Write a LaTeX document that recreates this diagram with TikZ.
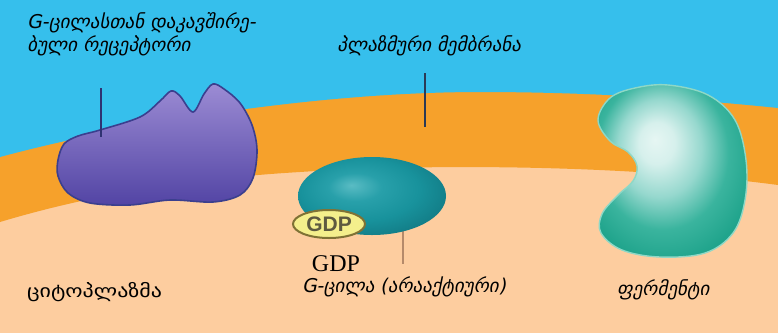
\documentclass[tikz,border=0pt]{standalone}
\usepackage{fontspec}
\usetikzlibrary{shapes.geometric}
\setmainfont{Liberation Serif}
\newfontfamily\geo{DejaVu Sans}[FakeStretch=1.22]
\newfontfamily\geoit{DejaVu Sans}[FakeSlant=0.2]
\newfontfamily\gdpfont{Liberation Sans}

\definecolor{extracell}{HTML}{36BFEC}
\definecolor{membrane}{HTML}{F6A12B}
\definecolor{cyto}{HTML}{FDCD9F}
\definecolor{reclight}{HTML}{9C8CD4}
\definecolor{recmid}{HTML}{8070C4}
\definecolor{recdark}{HTML}{5244A4}
\definecolor{recline}{HTML}{3B3F8E}
\definecolor{gdpfill}{HTML}{F4EF8C}
\definecolor{gdpline}{HTML}{7F7235}
\definecolor{gdptext}{HTML}{5E5A40}
\definecolor{stalk}{HTML}{B58A6A}
\definecolor{leader}{HTML}{2B3A55}
\definecolor{enzedge}{HTML}{8ED8C6}

% G-protein body: teal with a highlight up and to the left
\pgfdeclareradialshading{gprotshade}{\pgfpoint{-7bp}{7bp}}{%
  color(0bp)=(rgb,255:red,90;green,188;blue,196);
  color(9bp)=(rgb,255:red,40;green,160;blue,170);
  color(20bp)=(rgb,255:red,24;green,146;blue,156);
  color(30bp)=(rgb,255:red,18;green,124;blue,134);
  color(50bp)=(rgb,255:red,18;green,124;blue,134)}

% enzyme: pale centre fading to teal at the rim
\pgfdeclareradialshading{enzshade}{\pgfpoint{-6bp}{9bp}}{%
  color(0bp)=(rgb,255:red,230;green,246;blue,243);
  color(6bp)=(rgb,255:red,214;green,240;blue,236);
  color(14bp)=(rgb,255:red,150;green,216;blue,206);
  color(22bp)=(rgb,255:red,58;green,180;blue,158);
  color(30bp)=(rgb,255:red,32;green,164;blue,140);
  color(50bp)=(rgb,255:red,32;green,164;blue,140)}

\tikzset{
  geolabel/.style={font=\geoit\fontsize{19}{23}\selectfont, text=black, inner sep=0pt},
  leaderline/.style={draw=leader, line width=2.2pt},
}

\begin{document}
\begin{tikzpicture}[x=1pt, y=-1pt]
\useasboundingbox (0,0) rectangle (778,333);

% cytoplasm, membrane band and extracellular space
\fill[cyto] (0,0) rectangle (778,333);
\fill[membrane] (0,0) -- (778,0) -- (778,185)
  .. controls (620,164) and (420,164) .. (300,172)
  .. controls (200,178) and (100,192) .. (0,222) -- cycle;
\fill[extracell] (0,0) -- (778,0) -- (778,108)
  .. controls (700,100) and (600,92) .. (480,92)
  .. controls (320,92) and (130,122) .. (0,157) -- cycle;

% leader lines
\coordinate (recTop) at (101,88);
\coordinate (recFoot) at (101,137);
\coordinate (memTop) at (425,73);
\coordinate (memFoot) at (425,127);
\coordinate (stalkTop) at (403,222);
\coordinate (stalkFoot) at (403,264);

% receptor
\shade[shading=axis, top color=reclight, middle color=recmid, bottom color=recdark,
       draw=recline, line width=1.6pt]
  plot[smooth cycle, tension=0.55] coordinates {
    (58,160) (64,144) (78,136) (100,130) (140,117) (160,101) (171,91)
    (180,96) (193,112) (204,94) (213,84) (224,89) (240,103) (252,125)
    (257,150) (253,178) (240,195) (213,202) (170,200) (130,205)
    (90,203) (68,193) (58,176)};
\draw[leaderline, draw=recline!80!black] (recTop) -- (recFoot);

% membrane marker
\draw[leaderline] (memTop) -- (memFoot);

% enzyme
\shade[shading=enzshade, draw=enzedge, line width=1.4pt]
  plot[smooth cycle, tension=0.6] coordinates {
    (598,120) (610,98) (635,88) (668,85) (708,95) (735,120) (746,160)
    (745,200) (733,233) (705,253) (660,257) (622,250) (601,233)
    (602,214) (617,196) (633,181) (637,166) (628,152) (610,141)};

% G-protein with GDP
\draw[stalk, line width=2.6pt] (stalkTop) -- (stalkFoot);
\node[ellipse, shading=gprotshade, minimum width=148pt, minimum height=78pt,
      inner sep=0pt] (gprot) at (372,196) {};
\node[ellipse, fill=gdpfill, draw=gdpline, line width=2pt, minimum width=72pt,
      minimum height=28pt, inner sep=0pt, text=gdptext,
      font=\gdpfont\bfseries\fontsize{21}{21}\selectfont] (gdp) at (329,224) {GDP};

% labels
\node[geolabel, anchor=north west, align=left] (reclabel) at (27,12)
  {G-ცილასთან დაკავშირე-\\ბული რეცეპტორი};
\node[geolabel] (memlabel) at (429,46) {პლაზმური მემბრანა};
\node[font=\fontsize{24}{24}\selectfont, inner sep=0pt] (gdplabel) at (336,264) {GDP};
\node[geolabel] (gproteinlabel) at (404,287) {G-ცილა (არააქტიური)};
\node[geolabel] (enzlabel) at (663,290) {ფერმენტი};
\node[font=\geo\fontsize{18}{22}\selectfont, inner sep=0pt, anchor=west] (cytolabel)
  at (27,292) {ციტოპლაზმა};
\end{tikzpicture}
\end{document}
